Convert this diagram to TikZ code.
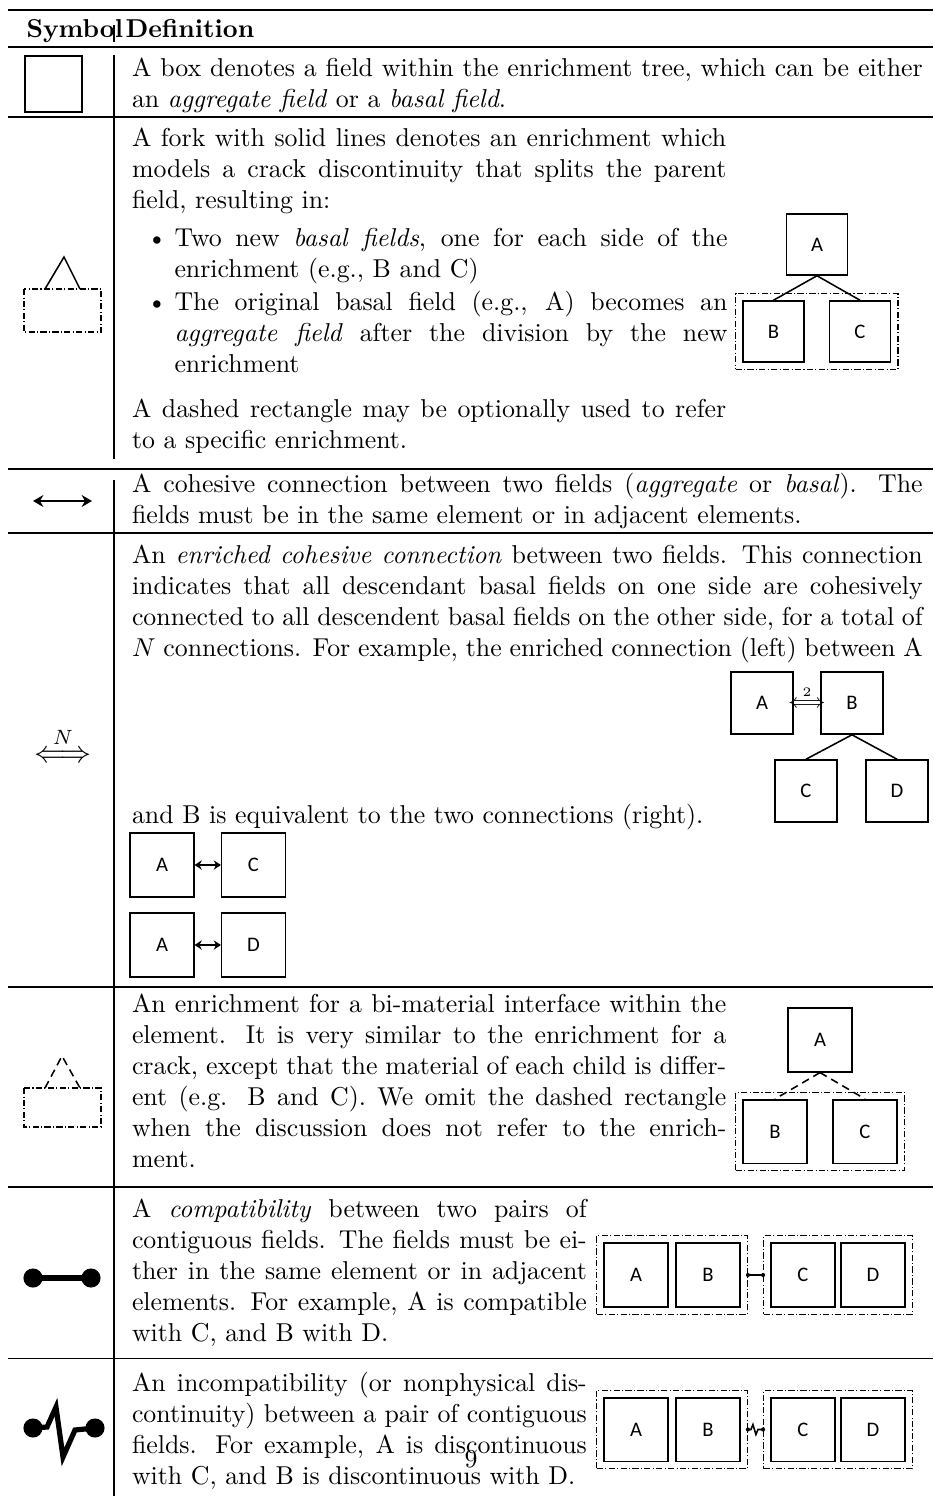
\documentclass[tikz,border=0pt]{standalone}
\usepackage{fontspec}
\usepackage{amsmath}
\newfontfamily\calibri{Carlito}
\usetikzlibrary{arrows.meta}
\usetikzlibrary{fit}

\begin{document}
\begin{tikzpicture}[x=0.387pt, y=-0.387pt,
  rule/.style={line width=0.4pt},
  txt/.style={anchor=base west, inner sep=0pt, align=justify},
  field/.style={draw, line width=0.6pt, minimum size=24.6pt, inner sep=0pt, font=\calibri\fontsize{8}{10}\selectfont},
  enrich/.style={draw, line width=0.5pt, dash pattern=on 2.4pt off 0.9pt on 0.4pt off 0.9pt, inner sep=2.6pt},
  fork/.style={line width=0.6pt},
  cohesive/.style={{Stealth[length=2.8pt,width=3.6pt]}-{Stealth[length=2.8pt,width=3.6pt]}, line width=0.9pt}]
\useasboundingbox (0,0) rectangle (933,1496);
% rules of the table
\draw[line width=0.8pt] (8,10) -- (933,10);
\foreach \y in {47,117,469,533,987,1187,1358}
  \draw[rule] (8,\y) -- (933,\y);
\draw[rule] (114,25) -- (114,42) (114,55) -- (114,459) (114,480) -- (114,1496);
\node[txt] (hsym) at (26,37) {\textbf{Symbol}};
\node[txt] (hdef) at (125,37) {\textbf{Definition}};

% box
\draw[line width=0.8pt] (25,56) rectangle (82,112);
\node[txt, text width=306pt] (t1) at (131.5,76) {A box denotes a field within the enrichment tree, which can be either\linebreak an \emph{aggregate field} or a \emph{basal field}.};

% crack enrichment
\coordinate (s2t) at (64,257);
\coordinate (s2l) at (45,289);
\coordinate (s2r) at (80,289);
\draw[fork] (s2l) -- (s2t) -- (s2r);
\draw[enrich] (24,289) rectangle (101,332);
\node[txt, text width=230pt] (t2a) at (131.5,146) {A fork with solid lines denotes an enrichment which\linebreak models a crack discontinuity that splits the parent\linebreak field, resulting in:};
\node (b2a) at (157,246) [anchor=base] {\textbullet};
\node[txt, text width=214pt] (t2b) at (174,246) {Two new \emph{basal fields}, one for each side of the\linebreak enrichment (e.g., B and C)};
\node (b2b) at (157,310) [anchor=base] {\textbullet};
\node[txt, text width=214pt] (t2c) at (174,310) {The original basal field (e.g., A) becomes an\linebreak \emph{aggregate field} after the division by the new\linebreak enrichment};
\node[txt, text width=230pt] (t2d) at (131.5,417) {A dashed rectangle may be optionally used to refer\linebreak to a specific enrichment.};
\node[field, minimum size=23.6pt] (fA2) at (817,244.5) {A};
\node[field, minimum size=23.6pt] (fB2) at (773.5,331.5) {B};
\node[field, minimum size=23.6pt] (fC2) at (860,331.5) {C};
\node[enrich, fit=(fB2)(fC2)] (e2) {};
\draw[fork] (fA2.south) -- (fB2.north);
\draw[fork] (fA2.south) -- (fC2.north);

% cohesive connection
\coordinate (s3l) at (33,501);
\coordinate (s3r) at (92,501);
\draw[{Stealth[length=4pt,width=4.6pt]}-{Stealth[length=4pt,width=4.6pt]}, line width=1pt] (s3l) -- (s3r);
\node[txt, text width=306pt] (t3) at (131.5,492) {A cohesive connection between two fields (\emph{aggregate} or \emph{basal}). The\linebreak fields must be in the same element or in adjacent elements.};

% enriched cohesive connection
\node[anchor=base] (s4) at (63,762) {\large$\overset{N}{\Longleftrightarrow}$};
\node[txt, text width=306pt] (t4a) at (131.5,563) {\parfillskip=0pt An \emph{enriched cohesive connection} between two fields. This connection\linebreak indicates that all descendant basal fields on one side are cohesively\linebreak connected to all descendent basal fields on the other side, for a total of\linebreak $N$ connections. For example, the enriched connection (left) between A};
\node[txt] (t4b) at (131.5,823) {and B is equivalent to the two connections (right).};
\node[field, minimum size=24pt] (fA4) at (762,703) {A};
\node[field, minimum size=24pt] (fB4) at (852,703) {B};
\node[field, minimum size=24pt] (fC4) at (806,791) {C};
\node[field, minimum size=24pt] (fD4) at (897,791) {D};
\node[anchor=base, inner sep=0pt] (n4) at (807,707) {\scriptsize$\overset{2}{\Longleftrightarrow}$};
\draw[fork] (fB4.south) -- (fC4.north);
\draw[fork] (fB4.south) -- (fD4.north);
\node[field] (fA4a) at (162,865) {A};
\node[field] (fC4a) at (253.5,865) {C};
\node[field] (fA4b) at (162,945) {A};
\node[field] (fD4b) at (253.5,945) {D};
\draw[cohesive] (fA4a) -- (fC4a);
\draw[cohesive] (fA4b) -- (fD4b);

% bi-material enrichment
\coordinate (s5t) at (62,1056);
\coordinate (s5l) at (45,1088);
\coordinate (s5r) at (80,1088);
\draw[fork, dash pattern=on 3pt off 2pt] (s5l) -- (s5t) -- (s5r);
\draw[enrich] (24,1088) rectangle (101,1127);
\node[txt, text width=230pt] (t5) at (131.5,1012) {An enrichment for a bi-material interface within the\linebreak element. It is very similar to the enrichment for a\linebreak crack, except that the material of each child is differ-\linebreak ent (e.g. B and C). We omit the dashed rectangle\linebreak when the discussion does not refer to the enrich-\linebreak ment.};
\node[field] (fA5) at (820,1040) {A};
\node[field] (fB5) at (775,1131.5) {B};
\node[field] (fC5) at (865,1131.5) {C};
\node[enrich, fit=(fB5)(fC5)] (e5) {};
\draw[fork, dash pattern=on 3pt off 2pt] (fA5.south) -- (fB5.north);
\draw[fork, dash pattern=on 3pt off 2pt] (fA5.south) -- (fC5.north);

% compatibility
\coordinate (s6l) at (33,1278);
\coordinate (s6r) at (91,1278);
\draw[line width=2.3pt] (s6l) -- (s6r);
\fill (s6l) circle (3.7pt) (s6r) circle (3.7pt);
\node[txt, text width=176pt] (t6) at (131.5,1217) {A \emph{compatibility} between two pairs of\linebreak contiguous fields. The fields must be ei-\linebreak ther in the same element or in adjacent\linebreak elements. For example, A is compatible\linebreak with C, and B with D.};
\node[field] (fA6) at (636,1275) {A};
\node[field] (fB6) at (708,1275) {B};
\node[field] (fC6) at (803,1275) {C};
\node[field] (fD6) at (873,1275) {D};
\node[enrich, fit=(fA6)(fB6)] (e6l) {};
\node[enrich, fit=(fC6)(fD6)] (e6r) {};
\draw[line width=0.6pt] (e6l.east) -- (e6r.west);
\fill (e6l.east) circle (0.8pt) (e6r.west) circle (0.8pt);

% incompatibility
\coordinate (s7l) at (33,1428);
\coordinate (s7r) at (95,1428);
\draw[line width=2pt, line join=miter] (s7l) -- (47,1427) -- (56,1407) -- (63,1457) -- (75,1430) -- (s7r);
\fill (s7l) circle (3.7pt) (s7r) circle (3.7pt);
\node[txt, text width=176pt] (t7) at (131.5,1391) {An incompatibility (or nonphysical dis-\linebreak continuity) between a pair of contiguous\linebreak fields. For example, A is discontinuous\linebreak with C, and B is discontinuous with D.};
\node[field] (fA7) at (636,1429.5) {A};
\node[field] (fB7) at (708,1429.5) {B};
\node[field] (fC7) at (803,1429.5) {C};
\node[field] (fD7) at (873,1429.5) {D};
\node[enrich, fit=(fA7)(fB7)] (e7l) {};
\node[enrich, fit=(fC7)(fD7)] (e7r) {};
\draw[line width=0.6pt] (e7l.east) -- ++(3,0) -- ++(2,-5) -- ++(3,10) -- ++(2,-5) -- (e7r.west);
\fill (e7l.east) circle (0.8pt) (e7r.west) circle (0.8pt);

\node[anchor=base] (pg) at (471,1467) {9};
\end{tikzpicture}
\end{document}
